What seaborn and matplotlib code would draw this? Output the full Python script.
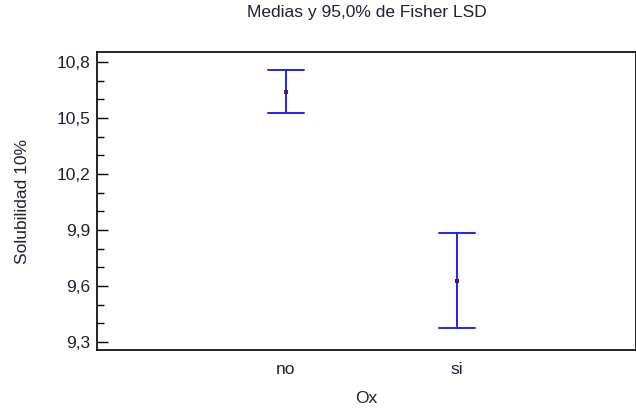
import matplotlib
matplotlib.use("Agg")
import matplotlib.pyplot as plt
import seaborn as sns
import pandas as pd
from matplotlib.ticker import MultipleLocator

# Group means and 95% Fisher LSD half-widths
groups = ["no", "si"]
means = [10.641, 9.629]
half_widths = [0.116, 0.256]

y_ticks = [9.3, 9.6, 9.9, 10.2, 10.5, 10.8]
y_tick_labels = ["9,3", "9,6", "9,9", "10,2", "10,5", "10,8"]

title = "Medias y 95,0% de Fisher LSD"
x_label = "Ox"
y_label = "Solubilidad 10%"

sns.set_theme(style="white")
plt.rcParams["font.family"] = ["Liberation Sans", "DejaVu Sans"]

# Long-form table: lower limit, mean and upper limit per group.
# The median of the three is the mean; the full range is the interval.
rows = []
for g, m, h in zip(groups, means, half_widths):
    for v in (m - h, m, m + h):
        rows.append({"Ox": g, "valor": v})
df = pd.DataFrame(rows)
mean_df = pd.DataFrame({"Ox": groups, "valor": means})

fig = plt.figure(figsize=(6.36, 4.08), dpi=100)
ax = fig.add_axes([97 / 636, 58 / 408, 539 / 636, 298 / 408])

sns.pointplot(
    data=df, x="Ox", y="valor", order=groups,
    estimator="median", errorbar=("pi", 100),
    linestyle="none", marker="", color="#2020ff",
    capsize=0.21, err_kws={"linewidth": 1.4}, ax=ax,
)
sns.scatterplot(
    data=mean_df, x="Ox", y="valor", marker="s", s=8,
    color="#6a1050", edgecolor="none", ax=ax, zorder=5,
)

ax.set_xlim(-1.105, 2.047)
ax.set_ylim(9.257, 10.854)
ax.set_yticks(y_ticks)
ax.set_yticklabels(y_tick_labels)
ax.yaxis.set_minor_locator(MultipleLocator(0.1))

text_color = "#202038"
ax.tick_params(axis="y", which="major", direction="in", length=8, width=1,
               color="black", labelsize=12.5, labelcolor=text_color, pad=5,
               left=True)
ax.tick_params(axis="y", which="minor", direction="in", length=5, width=1,
               color="black", left=True)
ax.tick_params(axis="x", length=0, labelsize=12.5, labelcolor=text_color, pad=9)

for sp in ax.spines.values():
    sp.set_color("black")
    sp.set_linewidth(1.2)
    sp.set_visible(True)

ax.set_xlabel(x_label, fontsize=12.5, color=text_color, labelpad=10)
ax.set_ylabel(y_label, fontsize=12.5, color=text_color, labelpad=19)
ax.set_title(title, fontsize=12.5, color=text_color, pad=25)
ax.grid(False)

fig.savefig("out.png", dpi=100)
